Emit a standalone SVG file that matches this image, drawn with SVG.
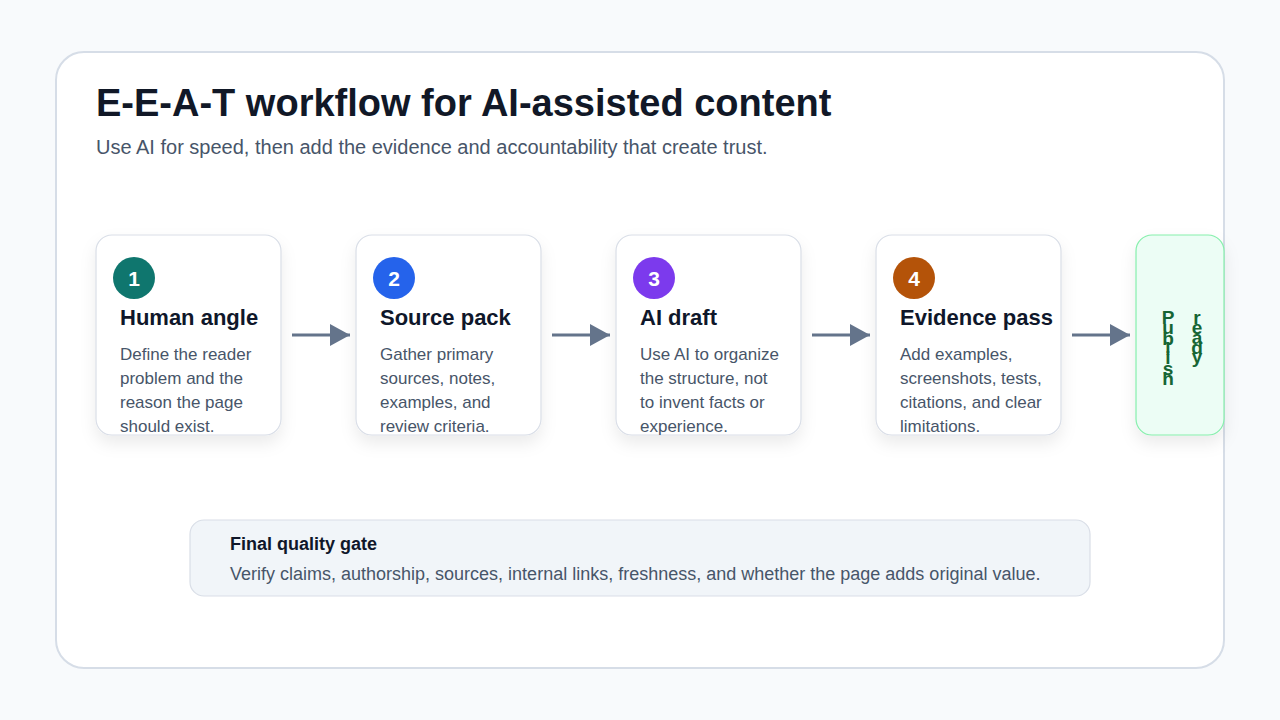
<svg xmlns="http://www.w3.org/2000/svg" width="1280" height="720" viewBox="0 0 1280 720">
  <defs>
    <filter id="shadow" x="-20%" y="-20%" width="140%" height="150%">
      <feDropShadow dx="0" dy="8" stdDeviation="8" flood-color="#0f172a" flood-opacity="0.08"/>
    </filter>
    <marker id="arrow" viewBox="0 0 20 22" refX="20" refY="11" markerWidth="20" markerHeight="22" markerUnits="userSpaceOnUse" orient="auto">
      <path d="M0,0 L20,11 L0,22 Z" fill="#64748b"/>
    </marker>
    <clipPath id="c1"><rect x="96" y="235" width="185" height="200" rx="16"/></clipPath>
    <clipPath id="c2"><rect x="356" y="235" width="185" height="200" rx="16"/></clipPath>
    <clipPath id="c3"><rect x="616" y="235" width="185" height="200" rx="16"/></clipPath>
    <clipPath id="c4"><rect x="876" y="235" width="185" height="200" rx="16"/></clipPath>
    <style>
      text { font-family: "Liberation Sans", Arial, sans-serif; }
      .card { fill: #ffffff; stroke: #d9dee7; stroke-width: 1.2; filter: url(#shadow); }
      .num { fill: #ffffff; font-size: 21px; font-weight: 700; text-anchor: middle; }
      .head { fill: #0f172a; font-size: 22px; font-weight: 700; }
      .body { fill: #475569; font-size: 17px; }
      .conn { stroke: #64748b; stroke-width: 3; fill: none; }
      .pub { fill: #166534; font-size: 19px; font-weight: 700; text-anchor: middle; }
    </style>
  </defs>
  <rect width="1280" height="720" fill="#f8fafc"/>
  <g id="panel">
    <rect x="56" y="52" width="1168" height="616" rx="28" fill="#ffffff" stroke="#d6dde7" stroke-width="2"/>
    <text x="96" y="116" font-size="38" font-weight="700" fill="#111827">E-E-A-T workflow for AI-assisted content</text>
    <text x="96" y="154" font-size="20" fill="#475569">Use AI for speed, then add the evidence and accountability that create trust.</text>
  </g>

  <g id="connectors">
    <line class="conn" x1="292" y1="335" x2="350" y2="335" marker-end="url(#arrow)"/>
    <line class="conn" x1="552" y1="335" x2="610" y2="335" marker-end="url(#arrow)"/>
    <line class="conn" x1="812" y1="335" x2="870" y2="335" marker-end="url(#arrow)"/>
    <line class="conn" x1="1072" y1="335" x2="1130" y2="335" marker-end="url(#arrow)"/>
  </g>

  <g id="step1">
    <rect class="card" x="96" y="235" width="185" height="200" rx="16"/>
    <g clip-path="url(#c1)">
      <circle cx="134" cy="278" r="21" fill="#0f766e"/>
      <text class="num" x="134" y="285.5">1</text>
      <text class="head" x="120" y="325">Human angle</text>
      <text class="body" x="120" y="360">Define the reader</text>
      <text class="body" x="120" y="384">problem and the</text>
      <text class="body" x="120" y="408">reason the page</text>
      <text class="body" x="120" y="432">should exist.</text>
    </g>
  </g>

  <g id="step2">
    <rect class="card" x="356" y="235" width="185" height="200" rx="16"/>
    <g clip-path="url(#c2)">
      <circle cx="394" cy="278" r="21" fill="#2563eb"/>
      <text class="num" x="394" y="285.5">2</text>
      <text class="head" x="380" y="325">Source pack</text>
      <text class="body" x="380" y="360">Gather primary</text>
      <text class="body" x="380" y="384">sources, notes,</text>
      <text class="body" x="380" y="408">examples, and</text>
      <text class="body" x="380" y="432">review criteria.</text>
    </g>
  </g>

  <g id="step3">
    <rect class="card" x="616" y="235" width="185" height="200" rx="16"/>
    <g clip-path="url(#c3)">
      <circle cx="654" cy="278" r="21" fill="#7c3aed"/>
      <text class="num" x="654" y="285.5">3</text>
      <text class="head" x="640" y="325">AI draft</text>
      <text class="body" x="640" y="360">Use AI to organize</text>
      <text class="body" x="640" y="384">the structure, not</text>
      <text class="body" x="640" y="408">to invent facts or</text>
      <text class="body" x="640" y="432">experience.</text>
    </g>
  </g>

  <g id="step4">
    <rect class="card" x="876" y="235" width="185" height="200" rx="16"/>
    <g clip-path="url(#c4)">
      <circle cx="914" cy="278" r="21" fill="#b45309"/>
      <text class="num" x="914" y="285.5">4</text>
      <text class="head" x="900" y="325">Evidence pass</text>
      <text class="body" x="900" y="360">Add examples,</text>
      <text class="body" x="900" y="384">screenshots, tests,</text>
      <text class="body" x="900" y="408">citations, and clear</text>
      <text class="body" x="900" y="432">limitations.</text>
    </g>
  </g>

  <g id="publish">
    <rect x="1136" y="235" width="88" height="200" rx="16" fill="#ecfdf5" stroke="#86efac" stroke-width="1.2" filter="url(#shadow)"/>
    <text class="pub" x="1168" y="324">P</text>
    <text class="pub" x="1168" y="334">u</text>
    <text class="pub" x="1168" y="345">b</text>
    <text class="pub" x="1168" y="355">l</text>
    <text class="pub" x="1168" y="364">i</text>
    <text class="pub" x="1168" y="375">s</text>
    <text class="pub" x="1168" y="385">h</text>
    <text class="pub" x="1197" y="324">r</text>
    <text class="pub" x="1197" y="334">e</text>
    <text class="pub" x="1197" y="344">a</text>
    <text class="pub" x="1197" y="354">d</text>
    <text class="pub" x="1197" y="363">y</text>
  </g>

  <g id="quality-gate">
    <rect x="190" y="520" width="900" height="76" rx="14" fill="#f1f5f9" stroke="#d9dee7" stroke-width="1.2"/>
    <text x="230" y="550" font-size="18" font-weight="700" fill="#0f172a">Final quality gate</text>
    <text x="230" y="580" font-size="18" fill="#475569">Verify claims, authorship, sources, internal links, freshness, and whether the page adds original value.</text>
  </g>
</svg>
